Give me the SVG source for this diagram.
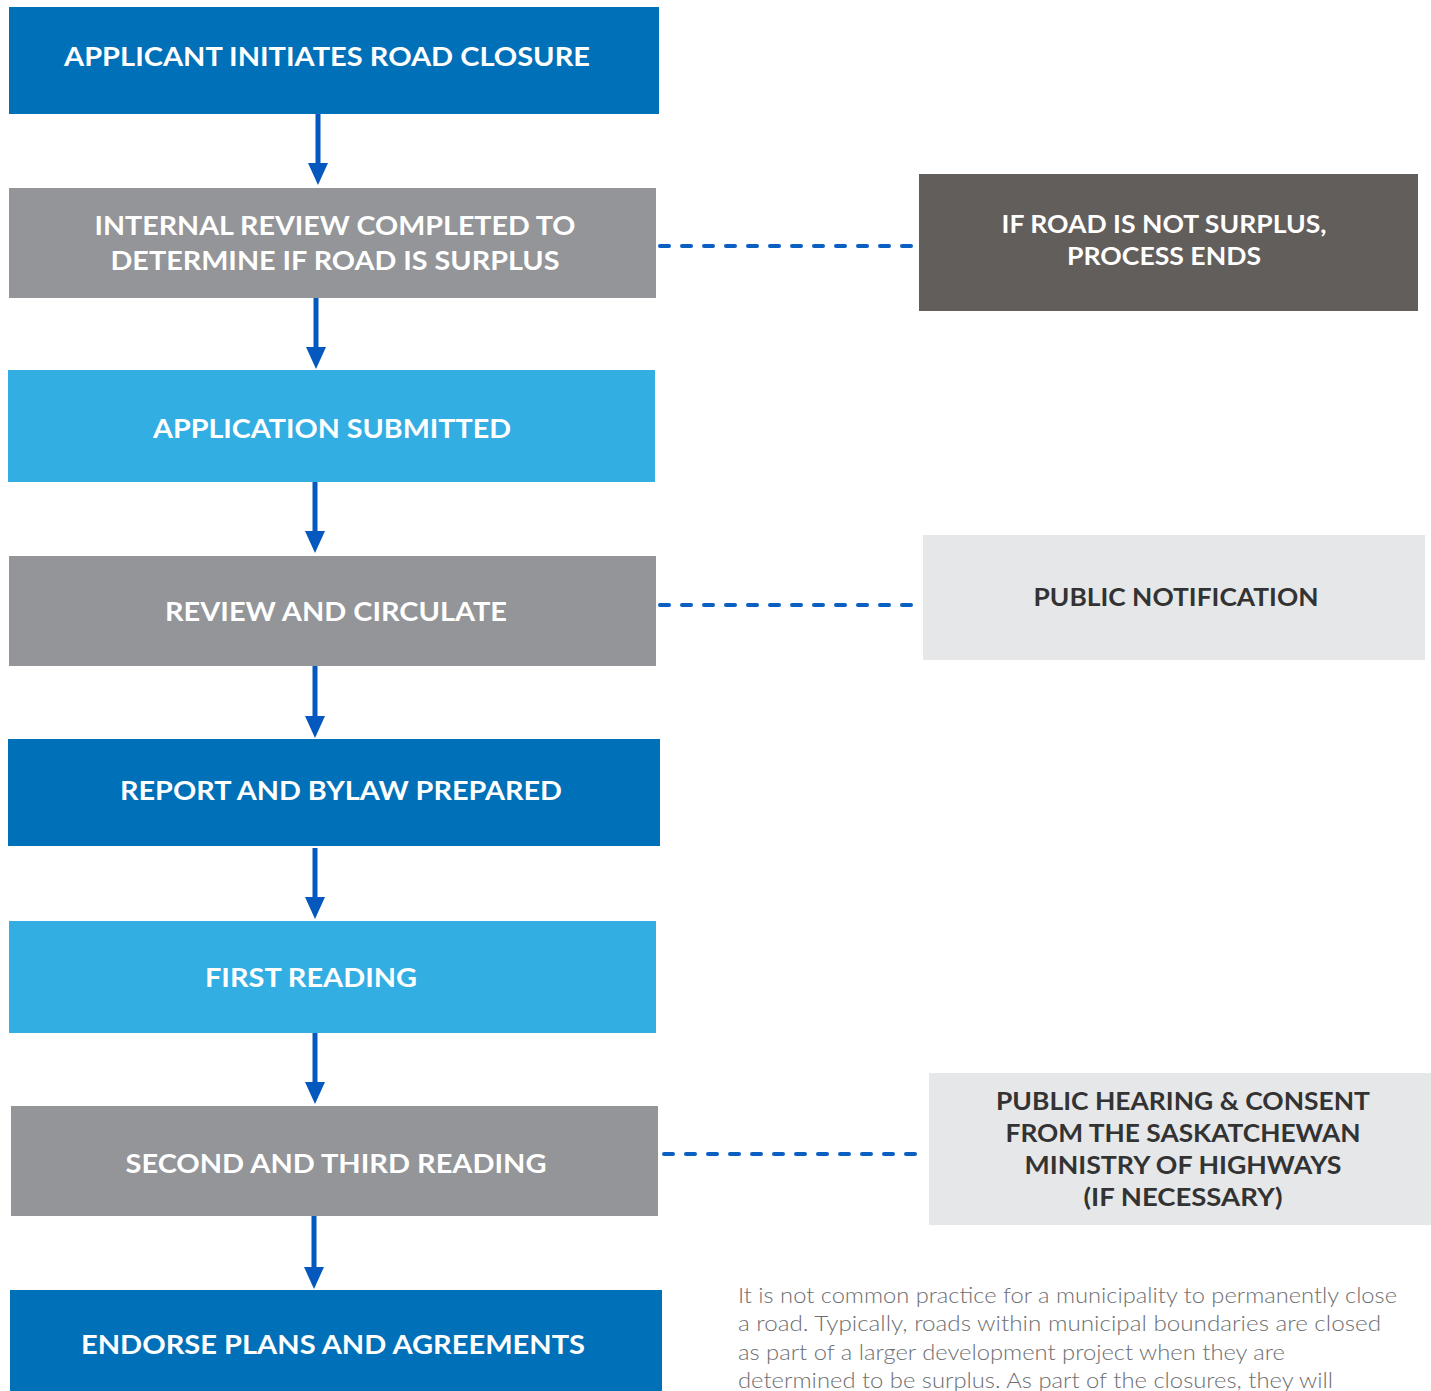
<svg xmlns="http://www.w3.org/2000/svg" width="1431" height="1391" viewBox="0 0 1431 1391">
<defs>
<style>
.t{font-family:Lato,"Open Sans","Liberation Sans",sans-serif;font-weight:700;font-size:27px;text-anchor:middle}
.w{fill:#ffffff}
.d{fill:#333333}
.p{font-family:Lato,"Open Sans","Liberation Sans",sans-serif;font-weight:300;font-size:21px;fill:#6d6e71}
.arr{stroke:#0558bd;stroke-width:5;fill:none}
.dash{stroke:#0a5fc0;stroke-width:4;fill:none;stroke-dasharray:9 13;stroke-linecap:round}
.dark{fill:#0070b8}.gray{fill:#939598}.light{fill:#33aee3}.char{fill:#625e5c}.pale{fill:#e6e7e8}
</style>
<marker id="ah" viewBox="0 0 20 22" refX="10" refY="22" markerWidth="20" markerHeight="22" markerUnits="userSpaceOnUse" orient="auto-start-reverse">
<path d="M0 0 L20 0 L10 22 Z" fill="#0558bd"/>
</marker>
</defs>
<rect width="1431" height="1391" fill="#ffffff"/>
<g id="connectors">
<line class="arr" x1="318" y1="114" x2="318" y2="163"/><path d="M308 163 L328 163 L318 185 Z" fill="#0558bd"/>
<line class="arr" x1="316" y1="298" x2="316" y2="347"/><path d="M306 347 L326 347 L316 369 Z" fill="#0558bd"/>
<line class="arr" x1="315" y1="482" x2="315" y2="531"/><path d="M305 531 L325 531 L315 553 Z" fill="#0558bd"/>
<line class="arr" x1="315" y1="666" x2="315" y2="716"/><path d="M305 716 L325 716 L315 738 Z" fill="#0558bd"/>
<line class="arr" x1="315" y1="848" x2="315" y2="897"/><path d="M305 897 L325 897 L315 919 Z" fill="#0558bd"/>
<line class="arr" x1="315" y1="1033" x2="315" y2="1082"/><path d="M305 1082 L325 1082 L315 1104 Z" fill="#0558bd"/>
<line class="arr" x1="314" y1="1216" x2="314" y2="1267"/><path d="M304 1267 L324 1267 L314 1289 Z" fill="#0558bd"/>
<line class="dash" x1="660" y1="246" x2="917" y2="246"/>
<line class="dash" x1="660" y1="605" x2="919" y2="605"/>
<line class="dash" x1="664" y1="1154" x2="925" y2="1154"/>
</g>
<g id="n1"><rect class="dark" x="9" y="7" width="650" height="107"/><text class="t w" x="327" y="66" textLength="526" lengthAdjust="spacingAndGlyphs">APPLICANT INITIATES ROAD CLOSURE</text></g>
<g id="n2"><rect class="gray" x="9" y="188" width="647" height="110"/><text class="t w" x="335" y="235" textLength="481" lengthAdjust="spacingAndGlyphs">INTERNAL REVIEW COMPLETED TO</text><text class="t w" x="335" y="270" textLength="449" lengthAdjust="spacingAndGlyphs">DETERMINE IF ROAD IS SURPLUS</text></g>
<g id="n3"><rect class="light" x="8" y="370" width="647" height="112"/><text class="t w" x="332" y="438" textLength="358" lengthAdjust="spacingAndGlyphs">APPLICATION SUBMITTED</text></g>
<g id="n4"><rect class="gray" x="9" y="556" width="647" height="110"/><text class="t w" x="336" y="621" textLength="342" lengthAdjust="spacingAndGlyphs">REVIEW AND CIRCULATE</text></g>
<g id="n5"><rect class="dark" x="8" y="739" width="652" height="107"/><text class="t w" x="341" y="800" textLength="442" lengthAdjust="spacingAndGlyphs">REPORT AND BYLAW PREPARED</text></g>
<g id="n6"><rect class="light" x="9" y="921" width="647" height="112"/><text class="t w" x="311" y="987" textLength="212" lengthAdjust="spacingAndGlyphs">FIRST READING</text></g>
<g id="n7"><rect class="gray" x="11" y="1106" width="647" height="110"/><text class="t w" x="336" y="1173" textLength="421" lengthAdjust="spacingAndGlyphs">SECOND AND THIRD READING</text></g>
<g id="n8"><rect class="dark" x="10" y="1290" width="652" height="101"/><text class="t w" x="333" y="1354" textLength="504" lengthAdjust="spacingAndGlyphs">ENDORSE PLANS AND AGREEMENTS</text></g>
<g id="r1"><rect class="char" x="919" y="174" width="499" height="137"/><text class="t w" x="1164" y="233" style="font-size:25px" textLength="325" lengthAdjust="spacingAndGlyphs">IF ROAD IS NOT SURPLUS,</text><text class="t w" x="1164" y="265" style="font-size:25px" textLength="194" lengthAdjust="spacingAndGlyphs">PROCESS ENDS</text></g>
<g id="r2"><rect class="pale" x="923" y="535" width="502" height="125"/><text class="t d" x="1176" y="606" style="font-size:25px" textLength="285" lengthAdjust="spacingAndGlyphs">PUBLIC NOTIFICATION</text></g>
<g id="r3"><rect class="pale" x="929" y="1073" width="502" height="152"/><text class="t d" x="1183" y="1110" style="font-size:25px" textLength="374" lengthAdjust="spacingAndGlyphs">PUBLIC HEARING &amp; CONSENT</text><text class="t d" x="1183" y="1142" style="font-size:25px" textLength="355" lengthAdjust="spacingAndGlyphs">FROM THE SASKATCHEWAN</text><text class="t d" x="1183" y="1174" style="font-size:25px" textLength="317" lengthAdjust="spacingAndGlyphs">MINISTRY OF HIGHWAYS</text><text class="t d" x="1183" y="1206" style="font-size:25px" textLength="199" lengthAdjust="spacingAndGlyphs">(IF NECESSARY)</text></g>
<g id="note">
<text class="p" x="738" y="1303" textLength="659" lengthAdjust="spacingAndGlyphs">It is not common practice for a municipality to permanently close</text>
<text class="p" x="738" y="1331" textLength="643" lengthAdjust="spacingAndGlyphs">a road. Typically, roads within municipal boundaries are closed</text>
<text class="p" x="738" y="1360" textLength="547" lengthAdjust="spacingAndGlyphs">as part of a larger development project when they are</text>
<text class="p" x="738" y="1388" textLength="595" lengthAdjust="spacingAndGlyphs">determined to be surplus. As part of the closures, they will</text>
</g>
</svg>
